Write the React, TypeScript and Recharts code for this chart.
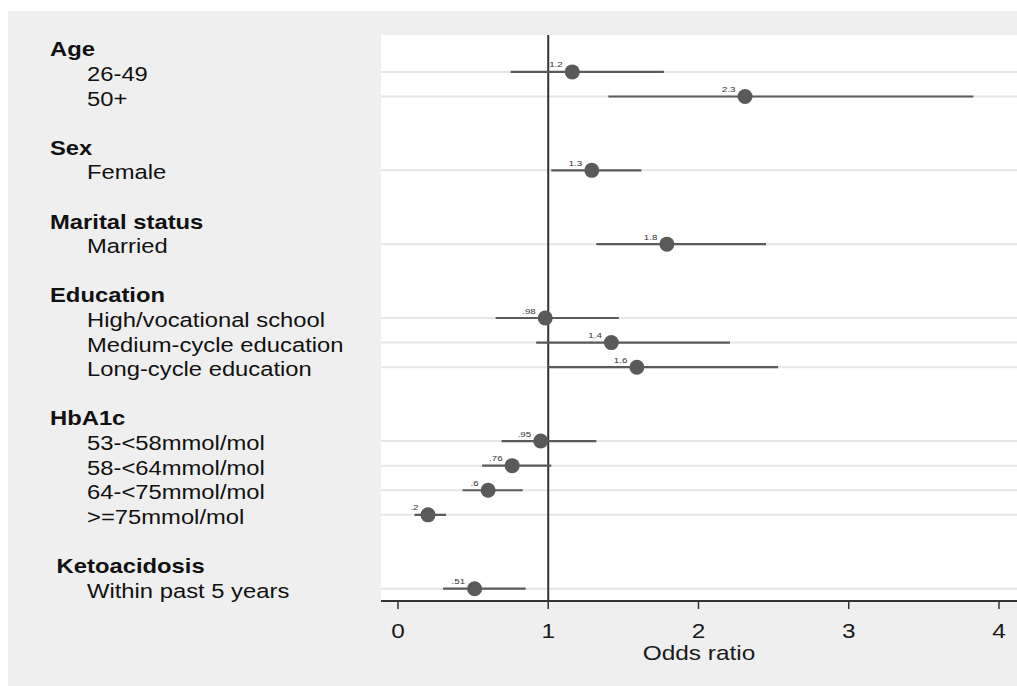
import React from 'react';
import {
  ScatterChart,
  Scatter,
  XAxis,
  YAxis,
  CartesianGrid,
  ReferenceLine,
  ErrorBar,
} from 'recharts';

const groupNames = ['Age', 'Sex', 'Marital status', 'Education', 'HbA1c', ' Ketoacidosis'];
const groupRows = [-1, 3, 6, 9, 14, 20];

const categories = [
  '26-49',
  '50+',
  'Female',
  'Married',
  'High/vocational school',
  'Medium-cycle education',
  'Long-cycle education',
  '53-<58mmol/mol',
  '58-<64mmol/mol',
  '64-<75mmol/mol',
  '>=75mmol/mol',
  'Within past 5 years',
];
const categoryRows = [0, 1, 4, 7, 10, 11, 12, 15, 16, 17, 18, 21];
const oddsRatios = [1.16, 2.31, 1.29, 1.79, 0.98, 1.42, 1.59, 0.95, 0.76, 0.6, 0.2, 0.51];
const ciLower = [0.75, 1.4, 1.02, 1.32, 0.65, 0.92, 1.0, 0.69, 0.56, 0.43, 0.11, 0.3];
const ciUpper = [1.77, 3.83, 1.62, 2.45, 1.47, 2.21, 2.53, 1.32, 1.02, 0.83, 0.32, 0.85];
const orLabels = ['1.2', '2.3', '1.3', '1.8', '.98', '1.4', '1.6', '.95', '.76', '.6', '.2', '.51'];

const xTicks = [0, 1, 2, 3, 4];
const xTitle = 'Odds ratio';

const data = categories.map((c, i) => ({
  name: c,
  row: categoryRows[i],
  or: oddsRatios[i],
  err: [oddsRatios[i] - ciLower[i], ciUpper[i] - oddsRatios[i]],
  label: orLabels[i],
}));

const FONT = '"Liberation Sans", Arial, sans-serif';
const DARK = '#5a5a5a';
const SX = 1.22;

const WideText = ({ x, y, children, anchor = 'start', size, weight = 'normal', fill = '#111' }: any) => (
  <text
    transform={`translate(${x} ${y}) scale(${SX} 1)`}
    x={0}
    y={0}
    textAnchor={anchor}
    fontSize={size}
    fontWeight={weight}
    fill={fill}
    fontFamily={FONT}
    style={{ whiteSpace: 'pre' }}
  >
    {children}
  </text>
);

const YTick = (props: any) => {
  const { y, payload } = props;
  const v = payload.value;
  const gi = groupRows.indexOf(v);
  if (gi >= 0) {
    return (
      <WideText x={42} y={y + 9} size={19.5} weight="bold">
        {groupNames[gi]}
      </WideText>
    );
  }
  const ci = categoryRows.indexOf(v);
  if (ci >= 0) {
    return (
      <WideText x={79} y={y + 9} size={19.5}>
        {categories[ci]}
      </WideText>
    );
  }
  return null;
};

const XTick = (props: any) => {
  const { x, y, payload } = props;
  return (
    <WideText x={x} y={y + 29} size={20} anchor="middle" fill="#1a1a1a">
      {String(payload.value)}
    </WideText>
  );
};

const XTitle = (props: any) => {
  const vb = props.viewBox || {};
  const cx = vb.x + vb.width / 2;
  const by = vb.y + vb.height - 5;
  return (
    <WideText x={cx} y={by} size={20} anchor="middle" fill="#1a1a1a">
      {xTitle}
    </WideText>
  );
};

const PointShape = (props: any) => {
  const { cx, cy, payload } = props;
  return (
    <g>
      <circle cx={cx} cy={cy} r={7.5} fill={DARK} />
      <WideText x={cx - 9.5} y={cy - 4.5} size={8} anchor="end" fill="#333">
        {payload.label}
      </WideText>
    </g>
  );
};

export default function App() {
  return (
    <div
      style={{
        position: 'absolute',
        left: 8,
        top: 11,
        width: 1009,
        height: 675,
        background: '#efefef',
        fontFamily: FONT,
      }}
    >
      <ScatterChart
        width={1009}
        height={675}
        margin={{ top: 24, right: 0, bottom: 21, left: 0 }}
      >
        <CartesianGrid fill="#ffffff" horizontal={false} vertical={false} />
        {categoryRows.map((r) => (
          <ReferenceLine key={'g' + r} y={r} stroke="#e6e6e6" strokeWidth={2} />
        ))}
        <ReferenceLine x={1} stroke="#333" strokeWidth={2} />
        <XAxis
          type="number"
          dataKey="or"
          domain={[-0.113, 4.12]}
          allowDataOverflow
          ticks={xTicks}
          interval={0}
          height={64}
          tickSize={8}
          tickMargin={0}
          axisLine={{ stroke: '#333', strokeWidth: 2 }}
          tickLine={{ stroke: '#333', strokeWidth: 1.5 }}
          tick={<XTick />}
          label={{ content: <XTitle />, position: 'insideBottom' }}
        />
        <YAxis
          type="number"
          dataKey="row"
          domain={[-1.5, 21.5]}
          reversed
          allowDataOverflow
          width={373}
          ticks={[...groupRows, ...categoryRows]}
          interval={0}
          axisLine={false}
          tickLine={false}
          tick={<YTick />}
        />
        <Scatter data={data} isAnimationActive={false} shape={<PointShape />}>
          <ErrorBar
            dataKey="err"
            direction="x"
            width={0}
            stroke={DARK}
            strokeWidth={2.2}
            isAnimationActive={false}
          />
        </Scatter>
      </ScatterChart>
    </div>
  );
}
